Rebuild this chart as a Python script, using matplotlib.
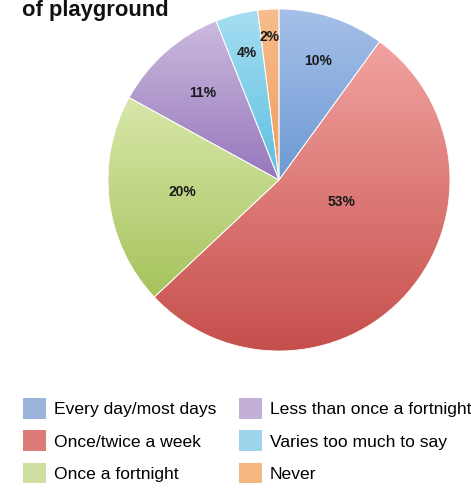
import numpy as np
import matplotlib
matplotlib.use("Agg")
import matplotlib.pyplot as plt
from matplotlib.patches import Patch
from matplotlib.colors import to_rgb

categories = ["Every day/most days", "Once/twice a week", "Once a fortnight",
              "Less than once a fortnight", "Varies too much to say", "Never"]
values = [10, 53, 20, 11, 4, 2]
labels = ["10%", "53%", "20%", "11%", "4%", "2%"]

# style (not data)
top_colors = ["#a6c0e8", "#f1a3a0", "#d8e7aa", "#cbbade", "#a6def2", "#f8bd8e"]
bot_colors = ["#6d99d4", "#c64f4c", "#a6c35c", "#9677bb", "#5bbfe0", "#ee9c5c"]
legend_colors = ["#9ab4dc", "#dc7b78", "#cfdfa0", "#c3b0d5", "#9dd6ec", "#f5b680"]
label_r = [0.73, 0.385, 0.57, 0.675, 0.765, 0.84]
label_ang_override = {1: -19.5}

W, H = 471, 488
fig = plt.figure(figsize=(W / 100, H / 100), dpi=100)
fig.patch.set_facecolor("white")

cx, cy, R = 279, 180, 171
ax = fig.add_axes([(cx - R) / W, 1 - (cy + R) / H, 2 * R / W, 2 * R / H])
ax.set_xlim(-1, 1)
ax.set_ylim(-1, 1)
ax.set_aspect("equal")
ax.axis("off")

wedges, _ = ax.pie(values, startangle=90, counterclock=False, radius=1,
                   colors=legend_colors,
                   wedgeprops=dict(edgecolor="white", linewidth=0.6))

renderer = fig.canvas.get_renderer()
inv = ax.transData.inverted()
for i, w in enumerate(wedges):
    ext = w.get_window_extent(renderer=renderer)
    (x0, y0), (x1, y1) = inv.transform([[ext.x0, ext.y0], [ext.x1, ext.y1]])
    t = np.linspace(0, 1, 256)[:, None]  # 0 bottom -> 1 top
    c0 = np.array(to_rgb(top_colors[i]))
    c1 = np.array(to_rgb(bot_colors[i]))
    img = c0[None, None, :] * t[:, :, None] + c1[None, None, :] * (1 - t[:, :, None])
    img = np.repeat(img, 2, axis=1)
    im = ax.imshow(img, extent=(x0, x1, y0, y1), origin="lower",
                   aspect="auto", zorder=w.get_zorder() + 0.1, interpolation="bilinear")
    im.set_clip_path(w)

for w in wedges:
    w.set_facecolor("none")
    w.set_zorder(5)

ax.set_xlim(-1.0, 1.0)
ax.set_ylim(-1.0, 1.0)

for i, w in enumerate(wedges):
    mid = (w.theta1 + w.theta2) / 2
    ang = np.deg2rad(label_ang_override.get(i, mid))
    r = label_r[i]
    ax.text(r * np.cos(ang), r * np.sin(ang), labels[i], ha="center", va="center",
            fontsize=10, fontweight="bold", family="Liberation Sans", color="#1a1a1a",
            zorder=10)

fig.text(22 / W, 1 - 16 / H, "of playground", ha="left", va="baseline",
         fontsize=15.8, fontweight="bold", family="Liberation Sans", color="#111111")

handles = [Patch(facecolor=c, edgecolor="none") for c in legend_colors]
fig.legend(handles, categories, ncol=2, loc="upper left",
           bbox_to_anchor=(23 / W, 1 - 398 / H), frameon=False,
           prop=dict(family="Liberation Sans", size=12.6),
           handlelength=1.31, handleheight=1.45, handletextpad=0.45,
           columnspacing=1.3, labelspacing=0.66, borderpad=0, borderaxespad=0)

fig.savefig("out.png", dpi=100, facecolor="white")
